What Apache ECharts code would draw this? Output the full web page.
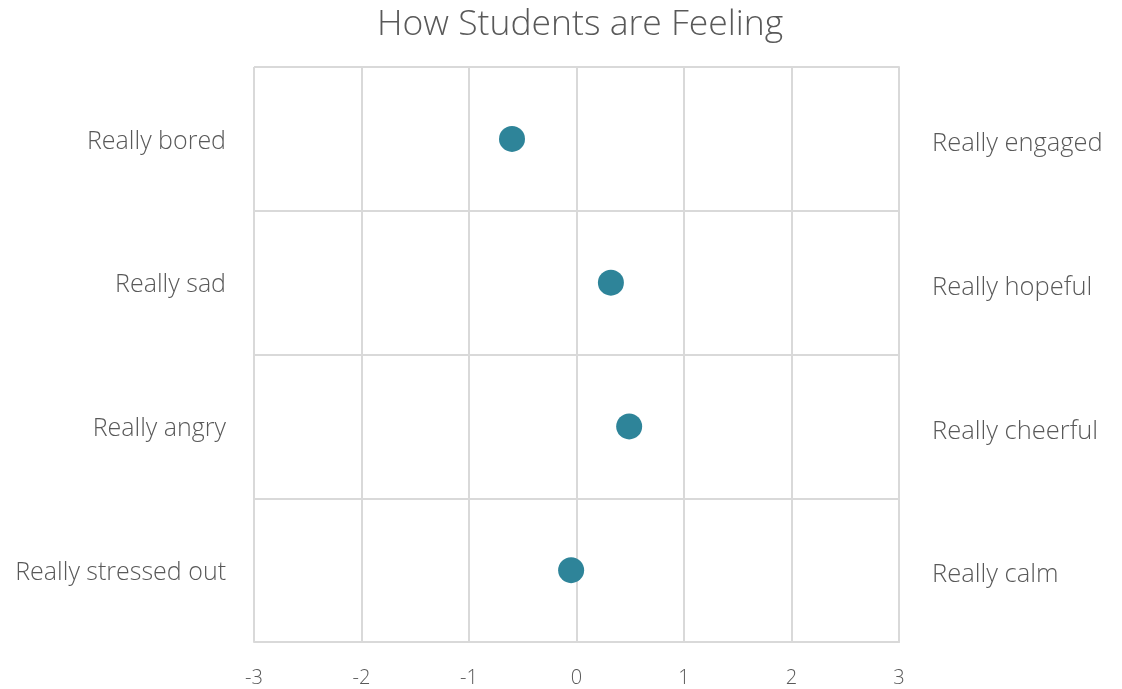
<!DOCTYPE html>
<html>
<head>
<meta charset="utf-8">
<script src="https://cdn.jsdelivr.net/npm/echarts@6/dist/echarts.min.js"></script>
<style>
  html, body { margin: 0; padding: 0; background: #fff; }
  #chart { width: 1122px; height: 689px; }
</style>
</head>
<body>
<div id="chart"></div>
<script>
// Negative end of each feeling scale (left side), top to bottom
const leftLabels = ['Really bored', 'Really sad', 'Really angry', 'Really stressed out'];
// Positive end of each feeling scale (right side)
const rightLabels = ['Really engaged', 'Really hopeful', 'Really cheerful', 'Really calm'];
// Average score on the -3..3 scale
const scores = [-0.6, 0.32, 0.49, -0.05];

const font = '"Open Sans", "Noto Sans", sans-serif';
const gridColor = '#d9d9d9';
const textColor = '#595959';

const chart = echarts.init(document.getElementById('chart'));
chart.setOption({
  animation: false,
  title: {
    text: 'How Students are Feeling',
    left: 372,
    top: 2,
    textStyle: { fontFamily: font, fontWeight: 300, fontSize: 35.5, color: textColor }
  },
  grid: { left: 254, right: 223, top: 67, bottom: 47 },
  xAxis: {
    type: 'value',
    min: -3, max: 3, interval: 1,
    axisLine: { show: true, lineStyle: { color: gridColor, width: 2 } },
    axisTick: { show: false },
    splitLine: { show: true, lineStyle: { color: gridColor, width: 2 } },
    axisLabel: { fontFamily: font, fontWeight: 300, fontSize: 20, color: textColor, margin: 26 }
  },
  yAxis: [
    {
      type: 'category',
      data: leftLabels,
      inverse: true,
      position: 'left',
      axisLine: { show: true, lineStyle: { color: gridColor, width: 2 } },
      axisTick: { show: false },
      splitLine: { show: true, lineStyle: { color: gridColor, width: 2 } },
      axisLabel: {
        fontFamily: font, fontWeight: 300, fontSize: 25, color: textColor, margin: 28,
        verticalAlign: 'top', lineHeight: 5
      }
    },
    {
      type: 'category',
      data: rightLabels,
      inverse: true,
      position: 'right',
      axisLine: { show: true, lineStyle: { color: gridColor, width: 2 } },
      axisTick: { show: false },
      splitLine: { show: false },
      axisLabel: {
        fontFamily: font, fontWeight: 300, fontSize: 25.5, color: textColor, margin: 33,
        verticalAlign: 'top', lineHeight: 10
      }
    }
  ],
  series: [{
    type: 'scatter',
    yAxisIndex: 0,
    data: scores.map((v, i) => [v, leftLabels[i]]),
    symbolSize: 26,
    itemStyle: { color: '#2e8499', opacity: 1 }
  }]
});
</script>
</body>
</html>
